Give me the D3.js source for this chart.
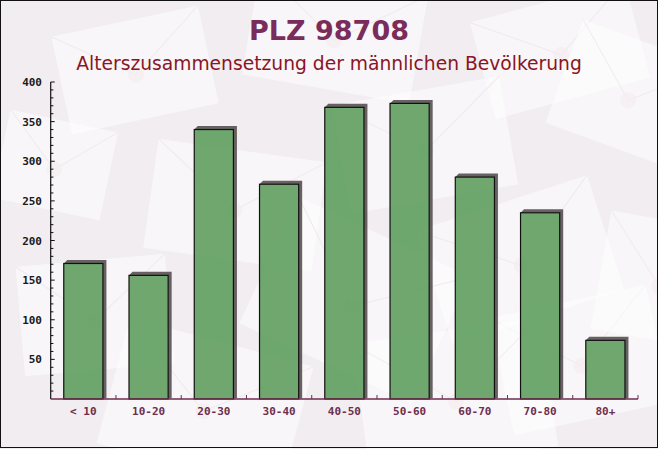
<!DOCTYPE html>
<html><head><meta charset="utf-8">
<script src="https://cdn.jsdelivr.net/npm/d3@7"></script>
<style>html,body{margin:0;padding:0;background:#f2eef0;}svg{display:block;}</style>
</head><body>
<script>
const categories = ["< 10","10-20","20-30","30-40","40-50","50-60","60-70","70-80","80+"];
const values = [171,156,340,271,368,373,280,235,74];
const yTicks = [50,100,150,200,250,300,350,400];
const title = "PLZ 98708";
const subtitle = "Alterszusammensetzung der männlichen Bevölkerung";

const W = 658, H = 449;
const svg = d3.select("body").append("svg").attr("width", W).attr("height", H);

// background
svg.append("rect").attr("width", W).attr("height", H).attr("fill", "#f1edf0");
const env = [
  [60,20,150,100,-12],[250,-20,170,110,10],[480,0,160,100,-15],[560,40,140,110,20],
  [340,90,170,110,-10],[150,150,170,110,8],[430,200,180,120,-18],[20,260,150,110,-5],
  [260,230,190,140,25],[500,300,160,120,-12],[110,340,190,130,15],[360,330,190,130,-8],
  [600,220,120,120,10],[0,120,110,90,12]
];
const bg = svg.append("g");
env.forEach(([x,y,w,h,r])=>{
  const g = bg.append("g").attr("transform",`translate(${x+w/2},${y+h/2}) rotate(${r})`);
  g.append("rect").attr("x",-w/2).attr("y",-h/2).attr("width",w).attr("height",h)
    .attr("fill","#ffffff").attr("opacity",0.5);
  g.append("path").attr("d",`M${-w/2},${-h/2}L0,${h*0.05}L${w/2},${-h/2}`)
    .attr("fill","none").attr("stroke","#f0eaed").attr("stroke-width",1);
  g.append("circle").attr("cx",0).attr("cy",h*0.05).attr("r",8).attr("fill","#f5ecef").attr("opacity",0.6);
});

// titles
svg.append("text").attr("x",329).attr("y",40).attr("text-anchor","middle")
  .attr("font-family","DejaVu Sans").attr("font-weight","bold").attr("font-size",27)
  .attr("fill","#7a2c5a").text(title);
svg.append("text").attr("x",329).attr("y",70).attr("text-anchor","middle")
  .attr("font-family","DejaVu Sans").attr("font-size",18.7)
  .attr("fill","#8a1524").text(subtitle);

const x0 = 50.7, x1 = 638, y0 = 399, yTop = 82;
const x = d3.scaleBand().domain(categories).range([x0, x1]).paddingInner(0.4).paddingOuter(0.2);
const y = d3.scaleLinear().domain([0,400]).range([y0, yTop]);
const step = x.step();
const bw = x.bandwidth();
const off = 3.5;

// bars
const bars = svg.append("g");
categories.forEach((c,i)=>{
  const bx = x(c), by = y(values[i]);
  bars.append("path")
    .attr("d",`M${bx},${by}L${bx+off},${by-off}L${bx+bw+off},${by-off}L${bx+bw+off},${y0-1}L${bx+bw},${y0}L${bx+bw},${by}Z`)
    .attr("fill","#4d4649").attr("opacity",0.85);
  bars.append("rect").attr("x",bx).attr("y",by).attr("width",bw).attr("height",y0-by)
    .attr("fill","#5f9f5e").attr("fill-opacity",0.9)
    .attr("stroke","#111").attr("stroke-width",1.2);
});

// y axis
const ya = svg.append("g");
ya.append("line").attr("x1",x0).attr("x2",x0).attr("y1",yTop).attr("y2",y0).attr("stroke","#111").attr("stroke-width",1.2);
d3.range(10,401,10).forEach(v=>{
  const major = v%50===0;
  ya.append("line").attr("x1",x0).attr("x2",x0+(major?4:2.7)).attr("y1",y(v)).attr("y2",y(v))
    .attr("stroke","#111").attr("stroke-width",1);
});
yTicks.forEach(v=>{
  ya.append("text").attr("x",42).attr("y",y(v)+4).attr("text-anchor","end")
    .attr("font-family","DejaVu Sans Mono").attr("font-weight","bold").attr("font-size",11)
    .attr("fill","#1a1a1a").text(v);
});

// x axis
const xa = svg.append("g");
xa.append("line").attr("x1",x0).attr("x2",x1).attr("y1",y0).attr("y2",y0).attr("stroke","#6e2e4e").attr("stroke-width",1.3);
categories.forEach((c,i)=>{
  const bx = x0 + step*(i+1);
  xa.append("line").attr("x1",bx).attr("x2",bx).attr("y1",y0).attr("y2",y0-4).attr("stroke","#6e2e4e").attr("stroke-width",1);
  xa.append("text").attr("x",x(c)+bw/2).attr("y",415).attr("text-anchor","middle")
    .attr("font-family","DejaVu Sans Mono").attr("font-weight","bold").attr("font-size",11)
    .attr("fill","#6e2e4e").text(c);
});

// border
svg.append("rect").attr("x",0.5).attr("y",0.5).attr("width",W-1).attr("height",H-2)
  .attr("fill","none").attr("stroke","#111").attr("stroke-width",1);
</script>
</body></html>
